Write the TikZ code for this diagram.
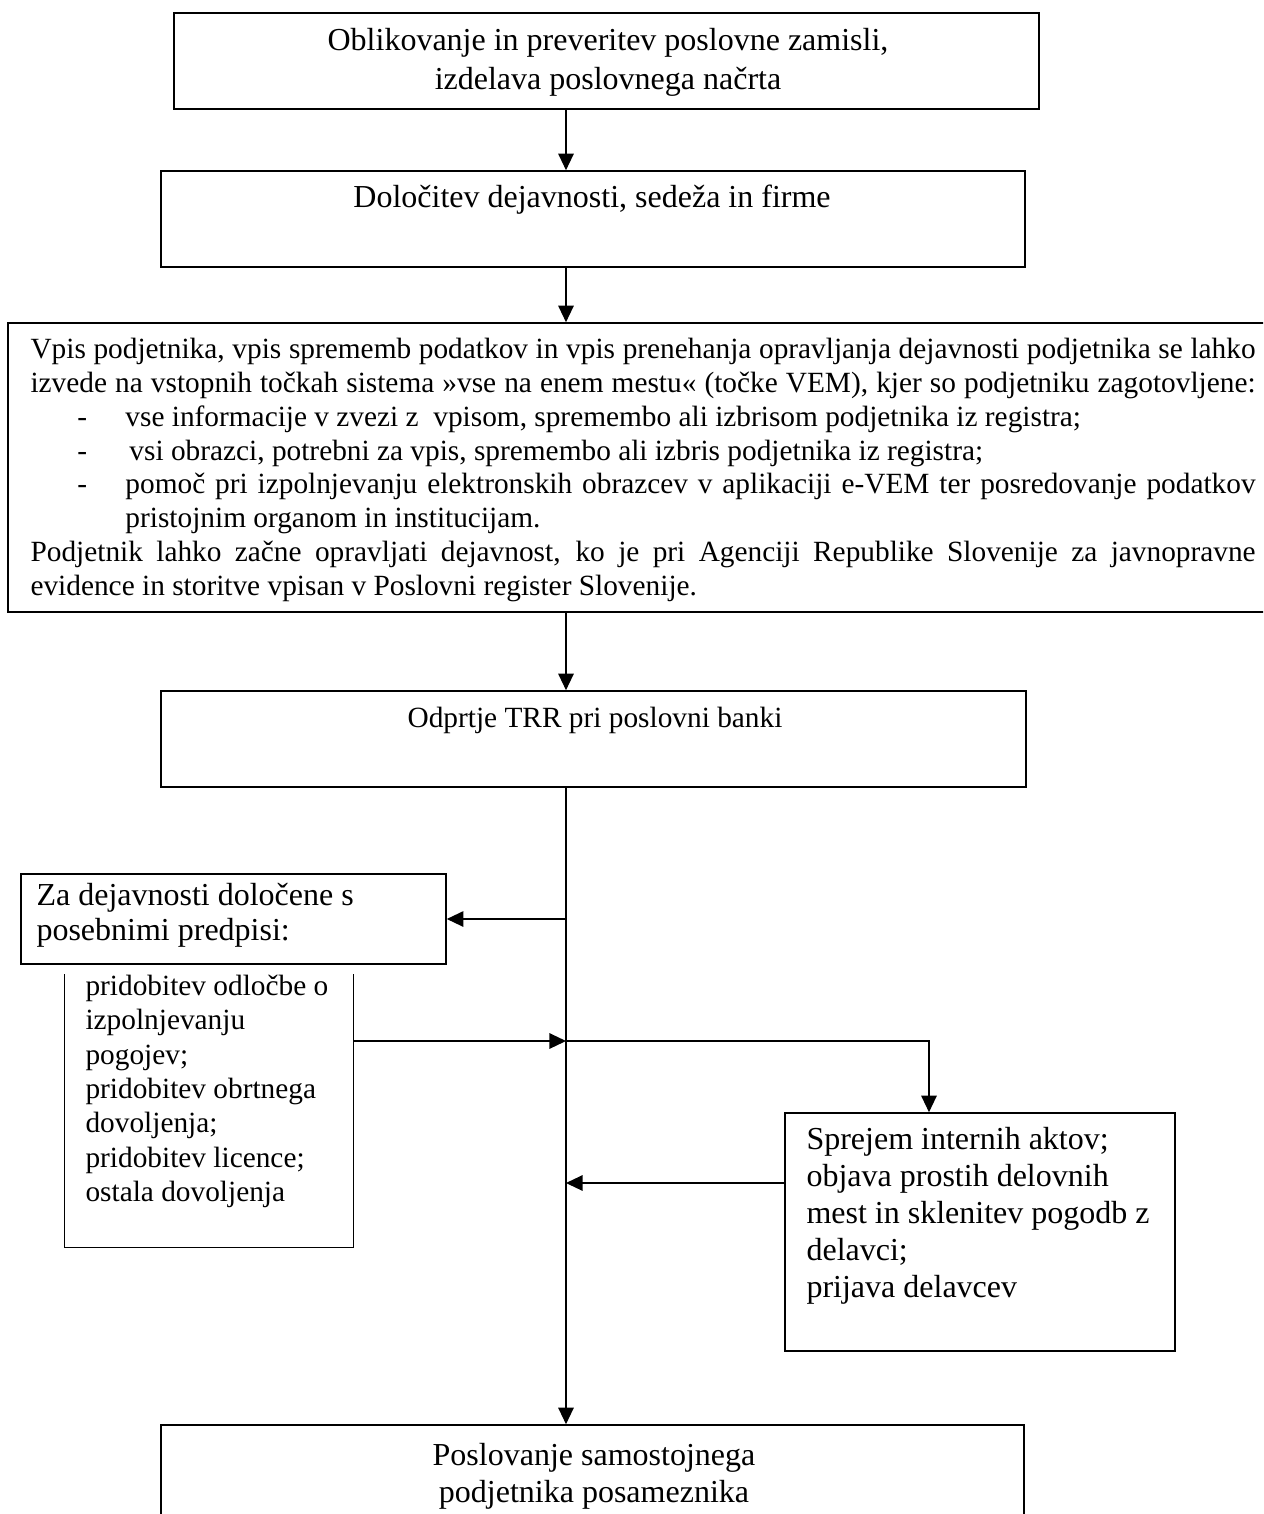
\documentclass[tikz,border=0pt]{standalone}
\usepackage{fontspec}
\setmainfont{Liberation Serif}
\usetikzlibrary{arrows.meta,fit}

\tikzset{
  >={Triangle[length=6.2pt,width=5.8pt]},   % polna trikotna puščica
  box/.style={draw, line width=0.6pt, inner sep=0pt},
  big/.style={font=\fontsize{12pt}{13.9pt}\selectfont, inner sep=0pt},
  small/.style={font=\fontsize{11pt}{12.9pt}\selectfont, inner sep=0pt},
  link/.style={->, line width=0.5pt}
}

\begin{document}
\begin{tikzpicture}[x=0.375pt, y=-0.375pt]

\useasboundingbox (0,0) rectangle (1263,1514);
\clip (0,0) rectangle (1263,1514);

% glavna navpična os
\coordinate (axis) at (566,0);

%==================== zgornji del ====================
\node[box, fit={(174,13) (1039,109)}] (zamisel) {};
\node[big, align=center, font=\fontsize{12pt}{14.6pt}\selectfont] (zamiseltxt) at (608,62.5)
    {Oblikovanje in preveritev poslovne zamisli,\\ izdelava poslovnega načrta};

\node[box, fit={(161,171) (1025,267)}] (dejavnost) {};
\node[big] (dejavnosttxt) at (592,200) {Določitev dejavnosti, sedeža in firme};

% vpis v register
\node[box, fit={(8,323) (1290,612)}] (vpis) {};
\node[small, text width=459.4pt, align=justify, anchor=west,
      font=\fontsize{11pt}{12.65pt}\selectfont] (vpistxt) at (30,470) {%
{\parfillskip=0pt Vpis podjetnika, vpis sprememb podatkov in vpis prenehanja opravljanja dejavnosti podjetnika se lahko\linebreak izvede na vstopnih točkah sistema »vse na enem mestu« (točke VEM), kjer so podjetniku zagotovljene:\par}
\hangindent=35.6pt\hangafter=1\hspace*{17.6pt}\makebox[18pt][l]{-}vse informacije v zvezi z\ \ vpisom, spremembo ali izbrisom podjetnika iz registra;\par
\hangindent=35.6pt\hangafter=1\hspace*{17.6pt}\makebox[18pt][l]{-}\hspace{1.5pt}vsi obrazci, potrebni za vpis, spremembo ali izbris podjetnika iz registra;\par
\hangindent=35.6pt\hangafter=1\hspace*{17.6pt}\makebox[18pt][l]{-}pomoč pri izpolnjevanju elektronskih obrazcev v aplikaciji e-VEM ter posredovanje podatkov\linebreak pristojnim organom in institucijam.\par
Podjetnik lahko začne opravljati dejavnost, ko je pri Agenciji Republike Slovenije za javnopravne\linebreak evidence in storitve vpisan v Poslovni register Slovenije.};

\node[box, fit={(161,691) (1026,787)}] (trr) {};
\node[small] (trrtxt) at (595,720) {Odprtje TRR pri poslovni banki};

%==================== levo ====================
\node[box, fit={(21,874) (446,964)}] (posebni) {};
\node[big, align=left, anchor=west, font=\fontsize{12pt}{13.1pt}\selectfont] (posebnitxt) at (36,915.5)
    {Za dejavnosti določene s\\ posebnimi predpisi:};

% okvir brez zgornje stranice
\node[fit={(65,975) (353,1247)}, inner sep=0pt] (dovoljenja) {};
\draw[line width=0.6pt] (dovoljenja.north west) |- (dovoljenja.south east) -- (dovoljenja.north east);
\node[small, align=left, anchor=west] (dovoljenjatxt) at (85,1091.5)
    {pridobitev odločbe o\\ izpolnjevanju\\ pogojev;\\ pridobitev obrtnega\\ dovoljenja;\\ pridobitev licence;\\ ostala dovoljenja};

%==================== desno ====================
\node[box, fit={(785,1113) (1175,1351)}] (akti) {};
\node[big, align=left, anchor=west] (aktitxt) at (806,1216)
    {Sprejem internih aktov;\\ objava prostih delovnih\\ mest in sklenitev pogodb z\\ delavci;\\ prijava delavcev};

%==================== spodaj ====================
\node[box, fit={(161,1425) (1024,1560)}] (poslovanje) {};
\node[big, align=center] (poslovanjetxt) at (594,1476.5)
    {Poslovanje samostojnega\\ podjetnika posameznika};

% povezave
\draw[link] (axis |- zamisel.south) -- (axis |- dejavnost.north);
\draw[link] (axis |- dejavnost.south) -- (axis |- vpis.north);
\draw[link] (axis |- vpis.south) -- (axis |- trr.north);
\draw[link] (axis |- trr.south) -- (axis |- poslovanje.north);
\draw[link] (axis |- posebni.east) -- (posebni.east);

\coordinate (razcep) at (566,1041);
\coordinate (zavoj) at (929,1041);
\coordinate (povratek) at (566,1183);
\draw[link] (dovoljenja.east |- razcep) -- (razcep);
\draw[link] (razcep) -- (zavoj) -- (zavoj |- akti.north);
\draw[link] (akti.west |- povratek) -- (povratek);

\end{tikzpicture}
\end{document}
